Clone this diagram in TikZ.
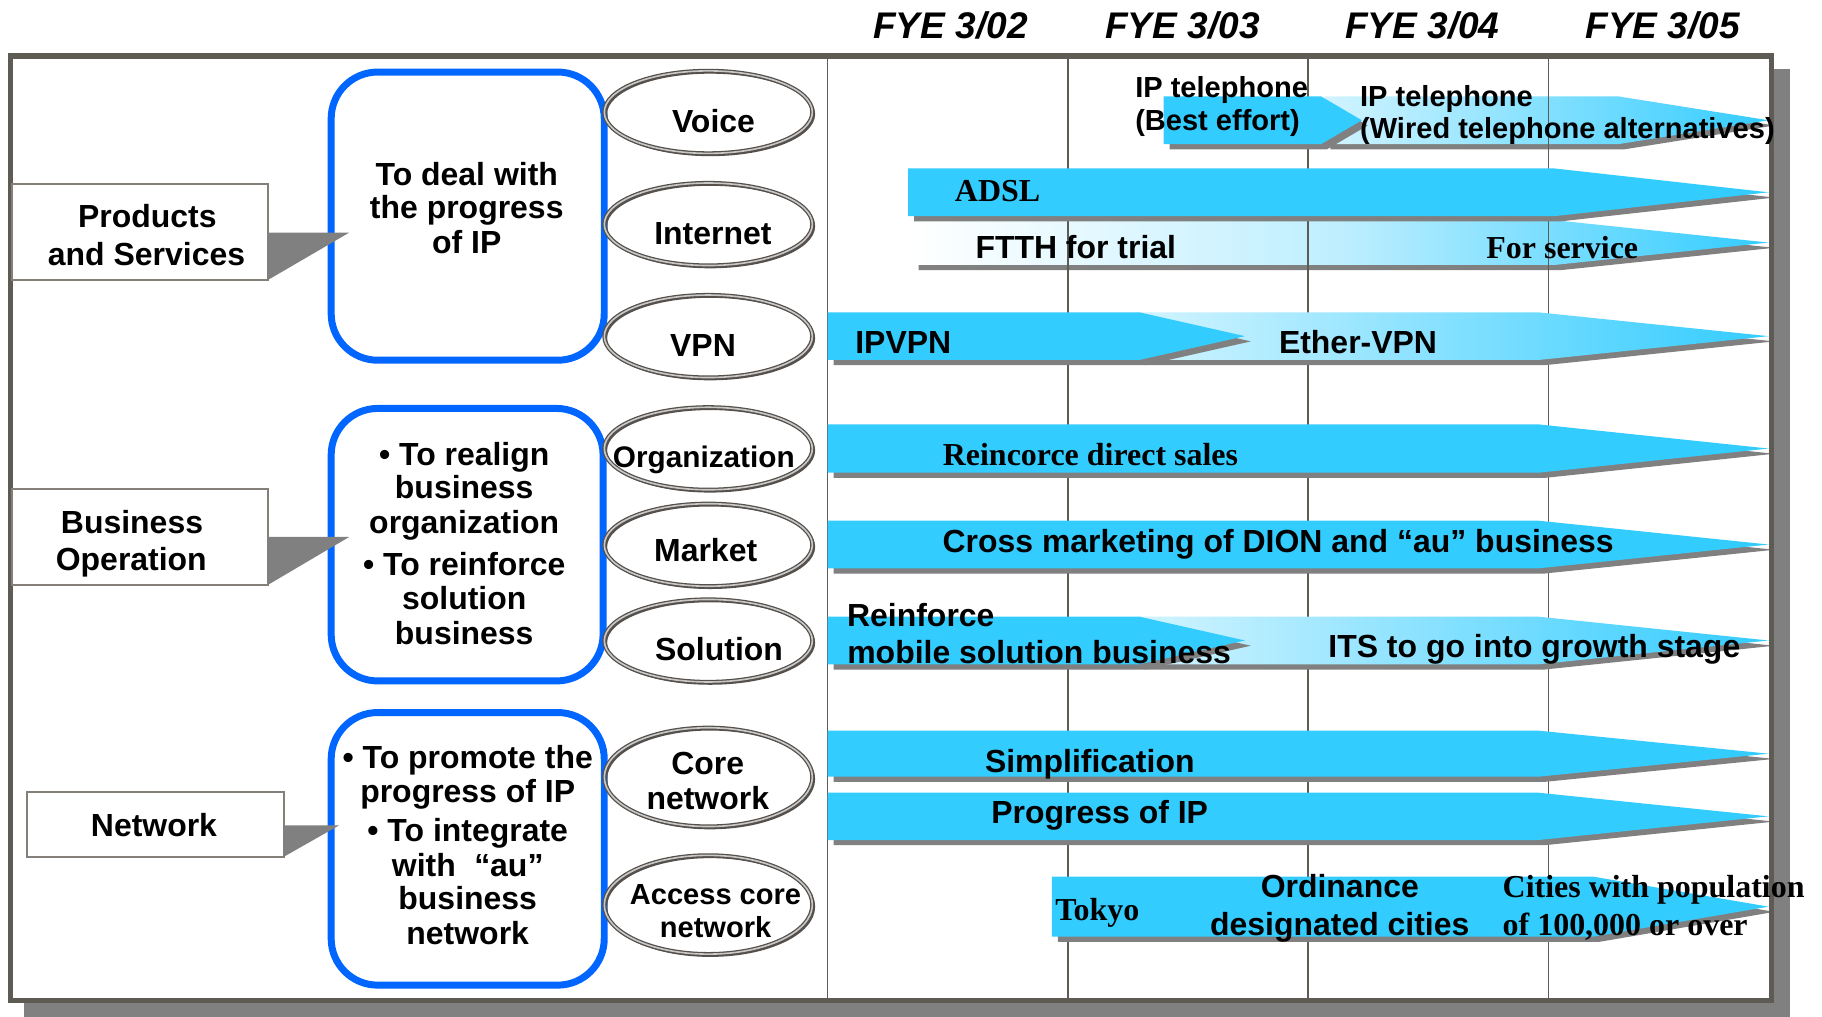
\documentclass[tikz,border=0pt]{standalone}
\usepackage{fontspec}
\setmainfont{Liberation Sans}
\newfontfamily\tmsfont{Liberation Serif}
\definecolor{cy}{HTML}{33CCFF}
\definecolor{bl}{HTML}{0066FF}
\definecolor{frc}{HTML}{5E5A54}
\definecolor{shc}{HTML}{808080}
\definecolor{boxc}{HTML}{857F79}
\definecolor{ringc}{HTML}{55504B}
\definecolor{ringl}{HTML}{C8C8C8}
\newcommand\mybar[6]{%
  \fill[shc] ({#2+5},{#3+4.5}) -- ({#5+5},{#3+4.5}) -- ({#6+5},{(#3+#4)/2+4.5}) -- ({#5+5},{#4+4.5}) -- ({#2+5},{#4+4.5}) -- cycle;
  \path[#1] (#2,#3) -- (#5,#3) -- (#6,{(#3+#4)/2}) -- (#5,#4) -- (#2,#4) -- cycle;}
\newcommand\myring[3]{%
  \draw[ringc, line width=1.6pt] ({#1+1.6},{#2+1.6}) ellipse [x radius=89.5, y radius=#3];
  \draw[draw=ringc, double=ringl, double distance=1.4pt, line width=1.1pt] (#1,#2) ellipse [x radius=89.5, y radius=#3];}
\begin{document}
\begin{tikzpicture}[x=1pt,y=-1pt,
  cybar/.style={fill=cy},
  gradbar/.style={left color=cy!22!white, right color=cy},
  ftthbar/.style={left color=white, right color=cy, middle color=cy!32!white},
  tx/.style={font=\fontsize{27.5}{29.5}\selectfont\bfseries, inner sep=0pt, anchor=base west, yshift=-1.8pt},
  txc/.style={tx, anchor=base},
  txs/.style={tx, font=\fontsize{25}{27}\selectfont\bfseries},
  tm/.style={font=\fontsize{27.5}{29.5}\selectfont\tmsfont\bfseries, inner sep=0pt, anchor=base west, yshift=-1.8pt},
  hdr/.style={font=\fontsize{31.9}{34}\selectfont\bfseries\itshape, inner sep=0pt, anchor=base, yshift=-1.5pt},
  catbox/.style={draw=boxc, line width=1.6pt, fill=white},
  goalbox/.style={draw=bl, line width=6pt, fill=white, rounded corners=40pt},
  callout/.style={fill=shc},
  gridline/.style={draw=frc, line width=1.2pt},
]
\useasboundingbox (0,0) rectangle (1568,875);
% frame with shadow
\fill[shc] (20.7,59) rectangle (1540.5,875);
\fill[white] (9.2,48.2) rectangle (1524.5,861);
% header
\node[hdr] (y02) at (817.9,31.6) {FYE 3/02};
\node[hdr] (y03) at (1017.7,31.6) {FYE 3/03};
\node[hdr] (y04) at (1224,31.6) {FYE 3/04};
\node[hdr] (y05) at (1431,31.6) {FYE 3/05};
% see-through bars
\mybar{ftthbar}{785.5}{189.5}{228}{1338}{1522}
\mybar{gradbar}{1140}{83}{124}{1393}{1522}
% grid lines
\draw[gridline] (712.3,50.5) -- (712.3,858.6);
\draw[gridline] (919,50.5) -- (919,858.6);
\draw[gridline] (1125.5,50.5) -- (1125.5,858.6);
\draw[gridline] (1332.5,50.5) -- (1332.5,858.6);
% bars
\mybar{cybar}{781.6}{145}{186}{1338}{1522}
\mybar{cybar}{1001.5}{83}{124}{1137}{1172}
\mybar{gradbar}{980}{268.8}{309.8}{1324}{1522}
\mybar{cybar}{712.3}{268.8}{309.8}{980.6}{1071.4}
\mybar{cybar}{712.3}{365.2}{406.8}{1324}{1522}
\mybar{cybar}{712.3}{448.1}{489.1}{1324}{1522}
\mybar{gradbar}{980}{530.7}{571.7}{1324}{1522}
\mybar{cybar}{712.3}{530.7}{571.7}{980.6}{1071.4}
\mybar{cybar}{712.3}{628.8}{668.4}{1324}{1522}
\mybar{cybar}{712.3}{682.2}{722.9}{1324}{1522}
\mybar{cybar}{905.3}{754.4}{806.1}{1371}{1522}
% frame border
\draw[frc, line width=4.6pt] (9.2,48.2) rectangle (1524.5,861);
% bar texts
\node[txs] (iptelA) at (976.8,81.8) {IP telephone};
\node[txs] (iptelB) at (976.8,110.4) {(Best effort)};
\node[txs] (iptelC) at (1170.3,89.5) {IP telephone};
\node[txs] (iptelD) at (1170.3,117) {(Wired telephone alternatives)};
\node[tm] (adsl) at (821.6,171.3) {ADSL};
\node[tx] (ftth) at (839.3,220.3) {FTTH for trial};
\node[tm] (forsvc) at (1279,220.3) {For service};
\node[tx] (ipvpn) at (735.9,302.6) {IPVPN};
\node[tx] (ethervpn) at (1100.5,302.6) {Ether-VPN};
\node[tm] (direct) at (811.2,398.7) {Reincorce direct sales};
\node[tx] (cross) at (811,473.3) {Cross marketing of DION and “au” business};
\node[tx] (mobA) at (728.8,537) {Reinforce};
\node[tx] (mobB) at (729,568.8) {mobile solution business};
\node[tx] (its) at (1143,563.7) {ITS to go into growth stage};
\node[tx] (simp) at (847.5,662.7) {Simplification};
\node[tx] (progip) at (853,707.1) {Progress of IP};
\node[tm] (tokyo) at (908,790.3) {Tokyo};
\node[txc] (ordA) at (1153,770.2) {Ordinance};
\node[txc] (ordB) at (1153,803.2) {designated cities};
\node[tm] (citA) at (1293,770.2) {Cities with population};
\node[tm] (citB) at (1293,803.2) {of 100,000 or over};
% category boxes
\draw[catbox] (10.1,158.4) rectangle (230.5,241);
\draw[catbox] (10.1,420.5) rectangle (230.5,503.4);
\draw[catbox] (23,681.3) rectangle (244.3,737.3);
\node[txc] (prodA) at (126.8,193.6) {Products};
\node[txc] (prodB) at (126.1,226.6) {and Services};
\node[txc] (busA) at (113.6,457) {Business};
\node[txc] (busB) at (113,489.2) {Operation};
\node[txc] (net) at (132.5,718) {Network};
% goal boxes
\draw[goalbox] (285,62) rectangle (520,310);
\draw[goalbox] (285,351.5) rectangle (519,586);
\draw[goalbox] (285,613.2) rectangle (520,847.8);
% callouts
\fill[callout] (230.5,200.2) -- (300.5,200.2) -- (230.5,241) -- cycle;
\fill[callout] (230.5,462.1) -- (300.5,462.1) -- (230.5,503.4) -- cycle;
\fill[callout] (244.3,710.2) -- (292,710.2) -- (244.3,737.3) -- cycle;
% goal texts
\node[txc] (gA1) at (401.7,157.8) {To deal with};
\node[txc] (gA2) at (401.7,186.5) {the progress};
\node[txc] (gA3) at (401.7,216.6) {of IP};
\node[txc] (gB1) at (399.5,398.5) {• To realign};
\node[txc] (gB2) at (399.5,427.3) {business};
\node[txc] (gB3) at (399.5,457) {organization};
\node[txc] (gB4) at (399.5,493.3) {• To reinforce};
\node[txc] (gB5) at (399.5,523.1) {solution};
\node[txc] (gB6) at (399.5,552.6) {business};
\node[txc] (gC1) at (402.5,659.3) {• To promote the};
\node[txc] (gC2) at (402.5,688.8) {progress of IP};
\node[txc] (gC3) at (402.5,722.7) {• To integrate};
\node[txc] (gC4) at (402.5,752.5) {with\hspace{0.3em} “au”};
\node[txc] (gC5) at (402.5,781.3) {business};
\node[txc] (gC6) at (402.5,811.1) {network};
% ellipses
\myring{609.6}{96.5}{35.5}
\myring{609.6}{193}{35.5}
\myring{609.6}{289.4}{35.5}
\myring{609.6}{386}{35.5}
\myring{609.6}{469}{35.5}
\myring{609.6}{551.4}{35.5}
\myring{609.6}{668.8}{42.5}
\myring{609.6}{778.6}{42.5}
\node[txc] (voice) at (614,111.9) {Voice};
\node[txc] (internet) at (613.5,208.8) {Internet};
\node[txc] (vpn) at (605,304.6) {VPN};
\node[txc, font=\fontsize{25.6}{28}\selectfont\bfseries] (org) at (605.7,400.2) {Organization};
\node[txc] (market) at (607.3,481.4) {Market};
\node[txc] (solution) at (618.8,566.2) {Solution};
\node[txc] (coreA) at (609,664.4) {Core};
\node[txc] (coreB) at (609.1,695) {network};
\node[txc, font=\fontsize{25}{27}\selectfont\bfseries] (accA) at (615.8,776.3) {Access core};
\node[txc, font=\fontsize{25}{27}\selectfont\bfseries] (accB) at (615.8,805) {network};
\end{tikzpicture}
\end{document}
